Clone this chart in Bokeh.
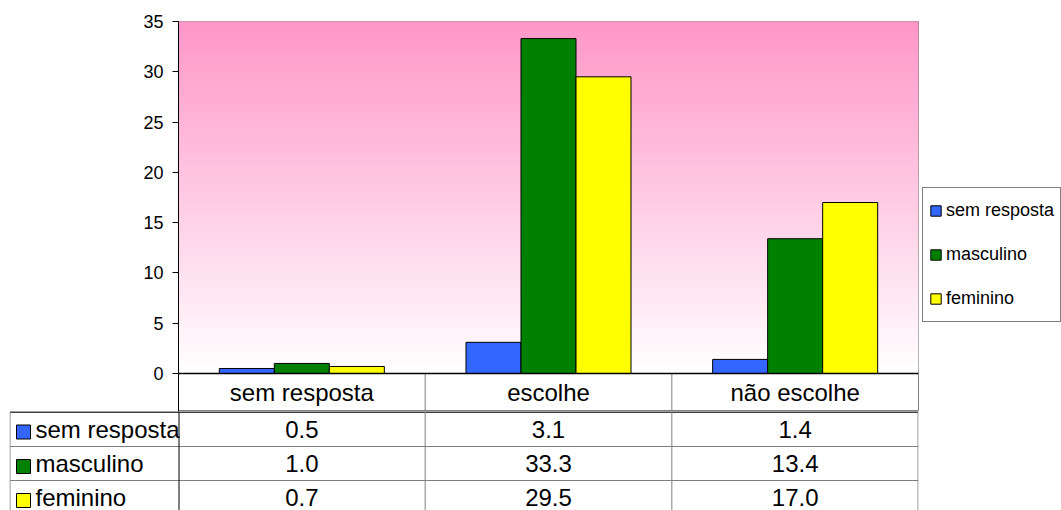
from bokeh.plotting import figure
from bokeh.models import (ColumnDataSource, Range1d, FactorRange, FixedTicker, BoxAnnotation,
                          Span, Legend, LegendItem)
from bokeh.transform import dodge
from bokeh.layouts import column, row
from bokeh.core.properties import value
from bokeh.embed import file_html
from bokeh.resources import INLINE

# ---------------- data ----------------
CATEGORIES = ["sem resposta", "escolhe", "não escolhe"]
SERIES = ["sem resposta", "masculino", "feminino"]
SEM_RESPOSTA = [0.5, 3.1, 1.4]
MASCULINO = [1.0, 33.3, 13.4]
FEMININO = [0.7, 29.5, 17.0]
Y_TICKS = [0, 5, 10, 15, 20, 25, 30, 35]

# ---------------- style / layout ----------------
COLORS = ["#3366FF", "#008000", "#FFFF00"]
FONT = "Liberation Sans"
W = 1061
TOTAL_H = 510
LEFT_W = 920           # width of chart + table column
LEG_W = W - LEFT_W     # width of legend column
BORDER_L = 178
BORDER_R = 2
BORDER_T = 21
ZERO_PX = 352          # frame height from y=35 down to y=0
HEADER_PX = 38         # category header row height
TOP_H = BORDER_T + ZERO_PX + HEADER_PX
TABLE_H = TOTAL_H - TOP_H
PLOT_W = LEFT_W - BORDER_L - BORDER_R
TABLE_LEFT = 9
LABEL_COL_W = BORDER_L - TABLE_LEFT
Y_MAX = 35
Y_MIN = -HEADER_PX * Y_MAX / ZERO_PX
BAR_W = 0.223
PINK = (255, 150, 200)
GRAY = "#808080"

series_vals = [SEM_RESPOSTA, MASCULINO, FEMININO]
src = ColumnDataSource(dict(cat=CATEGORIES, s0=SEM_RESPOSTA, s1=MASCULINO, s2=FEMININO))

p = figure(width=LEFT_W, height=TOP_H,
           x_range=FactorRange(factors=CATEGORIES),
           y_range=Range1d(Y_MIN, Y_MAX),
           x_axis_location=None,
           output_backend="svg", toolbar_location=None,
           min_border_left=BORDER_L, min_border_right=BORDER_R,
           min_border_top=BORDER_T, min_border_bottom=0)
p.frame_align = False
p.grid.visible = False
p.outline_line_color = GRAY
p.background_fill_color = "white"
p.border_fill_color = "white"

yax = p.yaxis[0]
yax.ticker = FixedTicker(ticks=Y_TICKS)
yax.minor_tick_line_color = None
yax.major_tick_out = 6
yax.major_tick_in = 0
yax.axis_line_color = "black"
yax.major_tick_line_color = "black"
yax.major_label_text_font = FONT
yax.major_label_text_font_size = "18px"
yax.major_label_text_color = "black"
yax.major_label_standoff = 9

# gradient background (0 .. Y_MAX); strips overlap to avoid seams
N_STRIPS = 70
step = Y_MAX / N_STRIPS
for k in range(N_STRIPS):
    y0 = k * step
    t = (y0 + step / 2) / Y_MAX
    r = int(round(255 + (PINK[0] - 255) * t))
    g = int(round(255 + (PINK[1] - 255) * t))
    b = int(round(255 + (PINK[2] - 255) * t))
    p.add_layout(BoxAnnotation(bottom=y0, top=min(y0 + 2 * step, Y_MAX + step),
                               fill_color=f"#{r:02x}{g:02x}{b:02x}",
                               fill_alpha=1.0, line_color=None, level="underlay"))

for i, name in enumerate(SERIES):
    p.vbar(x=dodge("cat", (i - 1) * BAR_W, range=p.x_range), top=f"s{i}", width=BAR_W,
           source=src, fill_color=COLORS[i], line_color="black", line_width=1)

# zero line and header-row separators
p.add_layout(Span(location=0, dimension="width", line_color="black", line_width=1.5))
sep_src = ColumnDataSource(dict(cat=CATEGORIES[1:], y0=[Y_MIN] * (len(CATEGORIES) - 1),
                                y1=[0] * (len(CATEGORIES) - 1)))
p.segment(x0=dodge("cat", -0.5, range=p.x_range), y0="y0",
          x1=dodge("cat", -0.5, range=p.x_range), y1="y1",
          source=sep_src, line_color=GRAY, line_width=1)
hdr_src = ColumnDataSource(dict(cat=CATEGORIES, y=[Y_MIN / 2] * len(CATEGORIES)))
p.text(x="cat", y="y", text="cat", source=hdr_src, text_font=value(FONT), text_font_size="24px",
       text_color="black", text_align="center", text_baseline="middle")

# ---------------- legend column ----------------
lf = figure(width=LEG_W, height=TOTAL_H, x_range=FactorRange(factors=CATEGORIES),
            y_range=Range1d(Y_MIN, Y_MAX),
            x_axis_location=None, y_axis_location=None,
            output_backend="svg", toolbar_location=None,
            min_border_left=0, min_border_right=0, min_border_top=0, min_border_bottom=0)
lf.frame_align = False
lf.grid.visible = False
lf.outline_line_color = None
lf.background_fill_color = "white"
lf.border_fill_color = "white"
leg_renderers = [lf.vbar(x="cat", top=f"s{i}", width=BAR_W, source=src, fill_color=c,
                         line_color="black", line_width=1, visible=False)
                 for i, c in enumerate(COLORS)]
lg = Legend(items=[LegendItem(label=n, renderers=[r]) for n, r in zip(SERIES, leg_renderers)],
            location=(2, TOTAL_H - 322))
lg.label_text_font = FONT
lg.label_text_font_size = "18px"
lg.label_text_color = "black"
lg.glyph_width = 13
lg.glyph_height = 13
lg.label_height = 33
lg.label_standoff = 4
lg.padding = 6
lg.spacing = 11
lg.margin = 0
lg.inactive_fill_alpha = 0.0
lg.border_line_color = "black"
lg.border_line_width = 1
lg.background_fill_alpha = 1.0
lf.add_layout(lg)

# ---------------- data table ----------------
CAT_W = PLOT_W / len(CATEGORIES)
ROW_EDGES = [0, 35, 69, 103]
centers = [(ROW_EDGES[k] + ROW_EDGES[k + 1]) / 2 for k in range(len(ROW_EDGES) - 1)]

tb = figure(width=LEFT_W, height=TABLE_H,
            x_range=Range1d(-LABEL_COL_W, PLOT_W), y_range=Range1d(TABLE_H, 0),
            x_axis_location=None, y_axis_location=None,
            output_backend="svg", toolbar_location=None,
            min_border_left=TABLE_LEFT, min_border_right=BORDER_R,
            min_border_top=0, min_border_bottom=0)
tb.frame_align = False
tb.grid.visible = False
tb.outline_line_color = None
tb.background_fill_color = "white"
tb.border_fill_color = "white"

left_edge = -LABEL_COL_W + 0.5
tb.segment(x0=[left_edge], y0=[0.5], x1=[PLOT_W], y1=[0.5], line_color="black", line_width=1.5)
tb.segment(x0=[left_edge] * 2, y0=ROW_EDGES[1:3], x1=[PLOT_W] * 2, y1=ROW_EDGES[1:3],
           line_color=GRAY, line_width=1)
tb.segment(x0=[0.5], y0=[0], x1=[0.5], y1=[TABLE_H], line_color="black", line_width=1)
vx = [CAT_W * k for k in range(1, len(CATEGORIES))] + [PLOT_W - 0.5]
tb.segment(x0=vx, y0=[0] * len(vx), x1=vx, y1=[TABLE_H] * len(vx), line_color=GRAY, line_width=1)
tb.segment(x0=[left_edge], y0=[0], x1=[left_edge], y1=[TABLE_H], line_color=GRAY, line_width=1)

for r, vals in enumerate(series_vals):
    tb.text(x=[(k + 0.5) * CAT_W for k in range(len(vals))], y=[centers[r]] * len(vals),
            text=[f"{v:.1f}" for v in vals], text_font=value(FONT), text_font_size="24px",
            text_color="black", text_align="center", text_baseline="middle")
tb.text(x=[-LABEL_COL_W + 26] * len(SERIES), y=centers, text=SERIES,
        text_font=value(FONT), text_font_size="24px", text_color="black",
        text_align="left", text_baseline="middle")
tb.scatter(x=[-LABEL_COL_W + 14] * len(SERIES), y=[c + 3 for c in centers],
           marker="square", size=14, fill_color=COLORS, line_color="black", line_width=1)

layout = row(column(p, tb, spacing=0), lf, spacing=0)
open("out.html", "w").write(file_html(layout, INLINE))
